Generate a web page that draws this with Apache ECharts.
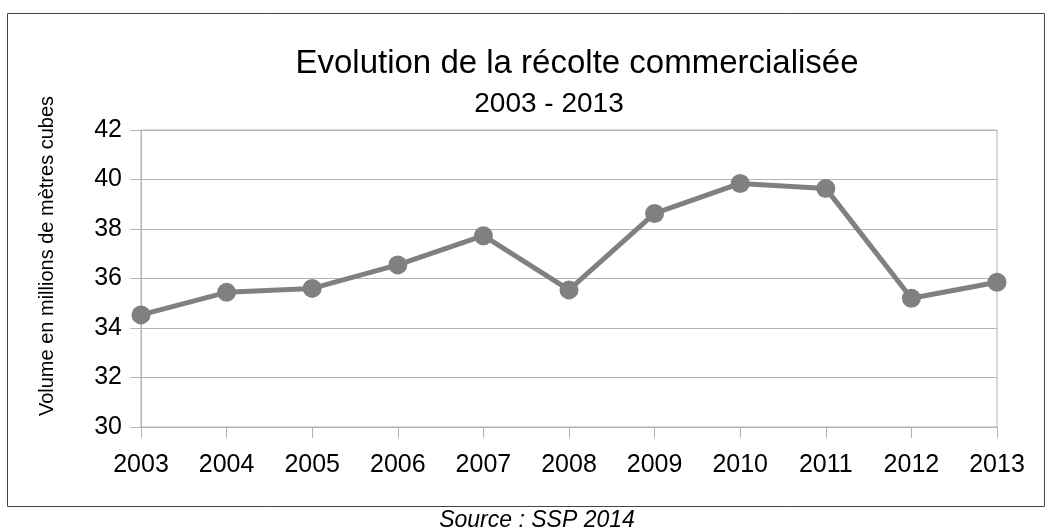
<!DOCTYPE html>
<html>
<head>
<meta charset="utf-8">
<script src="https://cdn.jsdelivr.net/npm/echarts@6/dist/echarts.min.js"></script>
<style>
  html, body { margin: 0; padding: 0; background: #fff; }
  #main { width: 1053px; height: 530px; }
</style>
</head>
<body>
<div id="main"></div>
<script>
// données (millions de m3)
const years = ['2003', '2004', '2005', '2006', '2007', '2008', '2009', '2010', '2011', '2012', '2013'];
const volumes = [34.53, 35.44, 35.6, 36.55, 37.73, 35.54, 38.63, 39.84, 39.64, 35.2, 35.85];
const yTicks = { min: 30, max: 42, interval: 2 };

const font = 'Liberation Sans, Arial, sans-serif';
const gridColor = '#b3b3b3';

const chart = echarts.init(document.getElementById('main'));

chart.setOption({
  animation: false,
  backgroundColor: '#fff',
  graphic: [
    {
      type: 'rect',
      shape: { x: 7.5, y: 13.5, width: 1037, height: 493 },
      style: { fill: 'none', stroke: '#444', lineWidth: 1 },
      silent: true
    },
    {
      type: 'text', x: 577, y: 64,
      style: {
        text: 'Evolution de la récolte commercialisée',
        font: '33px ' + font, fill: '#000',
        textAlign: 'center', textVerticalAlign: 'middle'
      }
    },
    {
      type: 'text', x: 549, y: 104,
      style: {
        text: '2003 - 2013',
        font: '28px ' + font, fill: '#000',
        textAlign: 'center', textVerticalAlign: 'middle'
      }
    },
    {
      // titre de l'axe vertical
      type: 'text', x: 47, y: 256, rotation: Math.PI / 2,
      style: {
        text: 'Volume en millions de mètres cubes',
        font: '20px ' + font, fill: '#000',
        textAlign: 'center', textVerticalAlign: 'middle'
      }
    },
    {
      type: 'text', x: 537, y: 521,
      style: {
        text: 'Source : SSP 2014',
        font: 'italic 23px ' + font, fill: '#000',
        textAlign: 'center', textVerticalAlign: 'middle'
      }
    }
  ],
  grid: {
    left: 141, right: 56, top: 130, bottom: 103,
    show: true, borderColor: gridColor, borderWidth: 1
  },
  xAxis: {
    type: 'category',
    data: years,
    boundaryGap: false,
    axisLine: { lineStyle: { color: gridColor } },
    axisTick: { show: true, length: 11, lineStyle: { color: gridColor } },
    axisLabel: { fontFamily: font, fontSize: 25, color: '#000', margin: 26 },
    splitLine: { show: false }
  },
  yAxis: {
    type: 'value',
    min: yTicks.min, max: yTicks.max, interval: yTicks.interval,
    axisLine: { show: true, lineStyle: { color: gridColor } },
    axisTick: { show: true, length: 11, lineStyle: { color: gridColor } },
    axisLabel: { fontFamily: font, fontSize: 25, color: '#000', margin: 19 },
    splitLine: { lineStyle: { color: gridColor } }
  },
  series: [{
    type: 'line',
    data: volumes,
    symbol: 'circle',
    symbolSize: 19,
    lineStyle: { color: '#808080', width: 5 },
    itemStyle: { color: '#808080' }
  }]
});
</script>
</body>
</html>
